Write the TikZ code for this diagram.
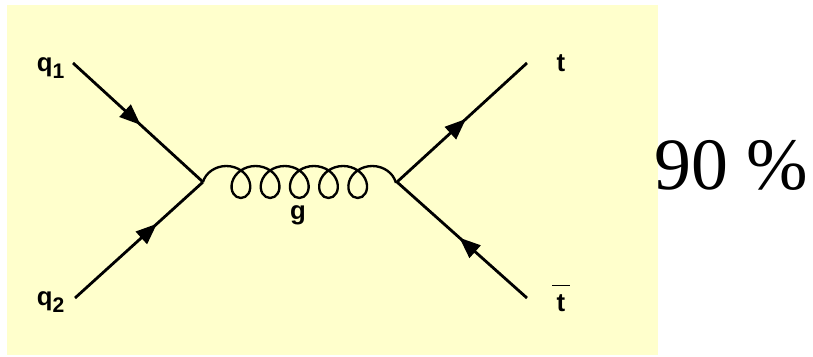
\documentclass[tikz,border=0pt]{standalone}
\usepackage{fontspec}
\setmainfont{Liberation Serif}
\setsansfont{Liberation Sans}
\usetikzlibrary{arrows.meta, decorations.pathmorphing, decorations.markings}

\definecolor{paleyellow}{RGB}{255,255,204}

\begin{document}
\begin{tikzpicture}[
    x=0.03cm, y=-0.03cm,
    % --- Quark Lines ---
    fermion/.style={
        line width=2.4pt,
        postaction={decorate},
        decoration={markings,
            mark=at position #1 with {\arrow{Triangle[length=18pt, width=14pt]}}}
    },
    fermion/.default=0.5,
    % --- Gluon Line ---
    gluon/.style={
        line width=2pt,
        decorate,
        decoration={coil, amplitude=0.48cm, segment length=0.876cm, aspect=1.0}
    },
    % --- Particle Labels ---
    particle/.style={
        font=\sffamily\bfseries\fontsize{22}{24}\selectfont,
        inner sep=0pt
    }
]

    \useasboundingbox (0,0) rectangle (813,356);
    \fill[paleyellow] (7,5) rectangle (658,355);

    % =========================================
    % 1. VERTICES AND LINE ENDS
    % =========================================
    \coordinate (vL) at (203,182);
    \coordinate (vR) at (397,182);

    \coordinate (inA)  at (73,63);
    \coordinate (inB)  at (75,298);
    \coordinate (outA) at (527,63);
    \coordinate (outB) at (527,298);

    % =========================================
    % 2. PROPAGATORS
    % =========================================
    \draw[fermion=0.52] (inA) -- (vL);
    \draw[fermion=0.64] (inB) -- (vL);

    \draw[fermion=0.53] (vR) -- (outA);
    \draw[fermion=0.52] (outB) -- (vR);

    \draw[gluon] (vL) -- (vR);

    % =========================================
    % 3. LABELS
    % =========================================
    \node[particle] (lblA)  at (51,68)  {q\textsubscript{\fontsize{18}{20}\selectfont 1}};
    \node[particle] (lblB)  at (51,302) {q\textsubscript{\fontsize{18}{20}\selectfont 2}};
    \node[particle] (lblT)  at (561,63) {t};
    \node[particle] (lblTb) at (561,298) {$\overline{\mbox{\,\rule{0pt}{0.95em}t\,}}$};
    \node[particle] (lblG)  at (298,215) {g};

    % Branching fraction
    \node[font=\fontsize{63}{70}\selectfont] (frac) at (731,165) {90 \%};

\end{tikzpicture}
\end{document}
